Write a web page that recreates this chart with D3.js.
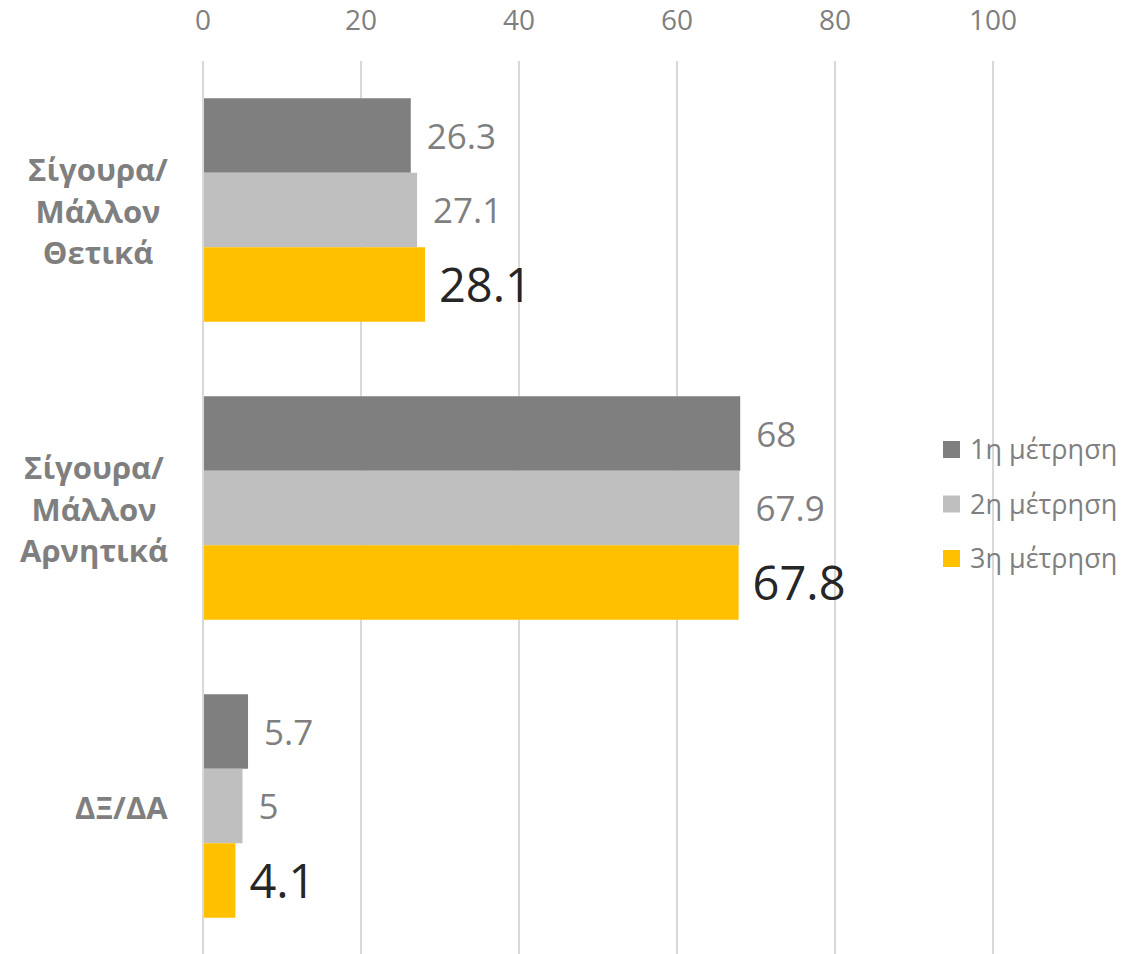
<!DOCTYPE html>
<html>
<head>
<meta charset="utf-8">
<script src="https://cdn.jsdelivr.net/npm/d3@7"></script>
<style>
  body { margin: 0; background: #fff; }
  svg text { font-family: "Open Sans", "Noto Sans", sans-serif; }
</style>
</head>
<body>
<div id="chart"></div>
<script>
// data
const categories = [
  ['Σίγουρα/', 'Μάλλον', 'Θετικά'],
  ['Σίγουρα/', 'Μάλλον', 'Αρνητικά'],
  ['ΔΞ/ΔΑ']
];
const seriesNames = ['1η μέτρηση', '2η μέτρηση', '3η μέτρηση'];
const series1 = [26.3, 68, 5.7];
const series2 = [27.1, 67.9, 5];
const series3 = [28.1, 67.8, 4.1];
const tickValues = [0, 20, 40, 60, 80, 100];

const colors = ['#7f7f7f', '#bfbfbf', '#ffc000'];
const allSeries = [series1, series2, series3];

const width = 1148, height = 954;
const svg = d3.select('#chart').append('svg')
  .attr('width', width)
  .attr('height', height);

const x = d3.scaleLinear().domain([0, 100]).range([203, 993]);
const y0 = d3.scaleBand()
  .domain(d3.range(categories.length))
  .range([61, 955])
  .paddingInner(0.25)
  .paddingOuter(0.125);
const y1 = d3.scaleBand()
  .domain(d3.range(seriesNames.length))
  .range([0, y0.bandwidth()]);

// gridlines
svg.append('g')
  .selectAll('line')
  .data(tickValues)
  .join('line')
  .attr('x1', d => x(d)).attr('x2', d => x(d))
  .attr('y1', 61).attr('y2', 955)
  .attr('stroke', '#d9d9d9')
  .attr('stroke-width', 2);

// top axis labels
svg.append('g')
  .selectAll('text')
  .data(tickValues)
  .join('text')
  .attr('x', d => x(d))
  .attr('y', 30)
  .attr('text-anchor', 'middle')
  .attr('font-size', 28)
  .attr('fill', '#7f7f7f')
  .text(d => d);

// bars
const groups = svg.append('g')
  .selectAll('g')
  .data(categories.map((c, i) => i))
  .join('g')
  .attr('transform', i => `translate(0,${y0(i)})`);

groups.selectAll('rect')
  .data(i => allSeries.map((s, k) => ({ k, v: s[i] })))
  .join('rect')
  .attr('x', x(0) + 1)
  .attr('y', d => y1(d.k))
  .attr('width', d => x(d.v) - x(0) - 1)
  .attr('height', y1.bandwidth())
  .attr('fill', d => colors[d.k]);

// value labels
groups.selectAll('text')
  .data(i => allSeries.map((s, k) => ({ k, v: s[i] })))
  .join('text')
  .attr('x', d => x(d.v) + (d.k === 2 ? 14 : 16))
  .attr('y', d => y1(d.k) + y1.bandwidth() / 2 + 1)
  .attr('dy', '0.35em')
  .attr('font-size', d => d.k === 2 ? 47 : 35)
  .attr('fill', d => d.k === 2 ? '#262626' : '#7f7f7f')
  .text(d => d.v);

// category labels: lines centred, block right-aligned near the axis
const catLabels = svg.append('g')
  .selectAll('text')
  .data(categories.map((c, i) => ({ c, i })))
  .join('text')
  .attr('text-anchor', 'middle')
  .attr('font-size', 31)
  .attr('font-weight', 'bold')
  .attr('fill', '#7f7f7f');

catLabels.selectAll('tspan')
  .data(d => d.c)
  .join('tspan')
  .attr('x', 0)
  .attr('y', (t, j) => j * 41.5)
  .attr('dy', '0.35em')
  .text(t => t);

catLabels.attr('transform', function(d) {
  const w = this.getBBox().width;
  const cx = 168 - w / 2;
  const cy = y0(d.i) + y0.bandwidth() / 2 + 2 - (d.c.length - 1) / 2 * 41.5;
  return `translate(${cx},${cy})`;
});

// legend
const legend = svg.append('g')
  .selectAll('g')
  .data(seriesNames)
  .join('g')
  .attr('transform', (d, i) => `translate(943,${450 + i * 54.5})`);

legend.append('rect')
  .attr('x', 0).attr('y', -9)
  .attr('width', 17).attr('height', 17)
  .attr('fill', (d, i) => colors[i]);

legend.append('text')
  .attr('x', 27).attr('y', 0)
  .attr('dy', '0.35em')
  .attr('font-size', 27)
  .attr('fill', '#7f7f7f')
  .text(d => d);
</script>
</body>
</html>
